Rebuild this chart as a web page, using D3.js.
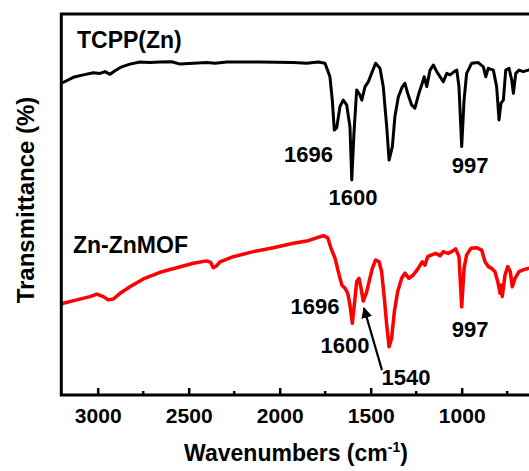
<!DOCTYPE html>
<html>
<head>
<meta charset="utf-8">
<script src="https://cdn.jsdelivr.net/npm/d3@7"></script>
<style>
  body { margin: 0; background: #fff; }
  svg text { font-family: "Liberation Sans", Arial, sans-serif; font-weight: bold; fill: #000; }
</style>
</head>
<body>
<script>
// FTIR spectra: [wavenumber, transmittance (a.u.)]
const tcppZn = [
  [3196, 104], [3134, 105.9], [3079, 106.7], [3024, 107.4], [2987, 107.2], [2960, 107.8],
  [2932, 106.9], [2905, 108.1], [2868, 109.4], [2823, 110.3], [2768, 111], [2713, 110.8],
  [2658, 111], [2593, 111.1], [2548, 110.3], [2475, 110.6], [2401, 110.8], [2355, 110.6],
  [2291, 111], [2108, 111], [1925, 110.8], [1852, 110.6], [1788, 111], [1751, 110.6],
  [1724, 106.1], [1711, 98.3], [1700, 88.3], [1687, 89], [1669, 96.1], [1651, 98.3],
  [1632, 96.7], [1614, 89.4], [1604, 71.7], [1592, 87.3], [1577, 101.7], [1559, 100],
  [1549, 98.3], [1531, 102.8], [1513, 104.4], [1495, 107.2], [1473, 110.6], [1449, 108.9],
  [1431, 102.8], [1412, 89.4], [1399, 78.3], [1381, 82.8], [1367, 92.8], [1348, 99.4],
  [1326, 102.8], [1312, 103.9], [1297, 100.6], [1275, 96.7], [1257, 95.6], [1235, 100.6],
  [1220, 103.3], [1206, 106.1], [1192, 102.8], [1174, 108.3], [1156, 110], [1137, 107.8],
  [1119, 106.1], [1101, 104.4], [1082, 107.2], [1064, 106.7], [1041, 107.8], [1027, 108.3],
  [1015, 102.8], [1000, 82.8], [987, 98.3], [973, 107.2], [945, 110.6], [909, 110.8],
  [881, 109.4], [868, 106.1], [854, 108.9], [826, 108.3], [808, 102.8], [795, 91.7],
  [784, 97.3], [771, 98.3], [758, 108.3], [740, 108.9], [725, 105], [716, 100.6],
  [703, 107.2], [685, 108.3], [662, 107.8], [634, 108.3], [570, 109]
];

const znZnMOF = [
  [3196, 30.3], [3189, 30.6], [3115, 31.7], [3042, 32.8], [3005, 33.6], [2969, 32.8],
  [2942, 31.7], [2914, 32], [2877, 33.9], [2823, 36.1], [2749, 38.7], [2658, 40.9],
  [2566, 42.4], [2475, 43.9], [2401, 44.7], [2379, 44.2], [2365, 42.4], [2346, 43.1],
  [2328, 44.4], [2255, 46.1], [2145, 47.8], [2035, 49.1], [1925, 50.6], [1852, 51.3],
  [1797, 52.4], [1760, 53.1], [1736, 52.4], [1718, 48.9], [1696, 45.6], [1678, 41.1],
  [1659, 36.7], [1641, 35.6], [1626, 33.9], [1614, 30], [1601, 23.9], [1590, 30],
  [1577, 37.8], [1564, 38.9], [1553, 35.6], [1541, 31.3], [1522, 34.4], [1509, 37.8],
  [1491, 42.2], [1473, 45], [1454, 44.4], [1440, 41.1], [1425, 32.2], [1412, 23.3],
  [1399, 16.1], [1385, 18.9], [1370, 27.8], [1352, 34.4], [1330, 38.9], [1312, 40.6],
  [1290, 38.9], [1266, 40], [1239, 42.2], [1217, 44.4], [1202, 43.3], [1187, 46.1],
  [1165, 46.7], [1143, 47.2], [1119, 46.4], [1101, 47.8], [1074, 47.2], [1055, 47.8],
  [1033, 48.7], [1015, 46.1], [1000, 29.4], [987, 42.2], [973, 46.7], [949, 48.9],
  [918, 49.1], [890, 48.3], [872, 44.4], [854, 42.8], [835, 42.2], [817, 41.1],
  [802, 37.8], [789, 33.9], [784, 36.7], [777, 32.8], [762, 40], [747, 42.8],
  [733, 41.1], [722, 36.1], [707, 38.9], [685, 41.1], [662, 41.7], [634, 42.2], [570, 43]
];

const majorTicks = [3000, 2500, 2000, 1500, 1000];
const minorTicks = [2750, 2250, 1750, 1250, 750];

// peak labels: text, wavenumber and value where the label sits
const peakLabels = [
  ["1696", 1842, 77.7], ["1600", 1597, 63.3], ["997", 954, 74],
  ["1696", 1806, 27], ["1600", 1641, 14], ["1540", 1306, 3.3], ["997", 954, 19.3]
];

const w = 529;
const h = 471;

const xScale = d3.scaleLinear().domain([3200, 400]).range([61.3, 570.9]);
const yScale = d3.scaleLinear().domain([0, 127]).range([395, 14]);

const svg = d3.select("body").append("svg").attr("width", w).attr("height", h);

svg.append("defs").append("marker")
  .attr("id", "head")
  .attr("viewBox", "0 0 10 10")
  .attr("refX", 9).attr("refY", 5)
  .attr("markerWidth", 5).attr("markerHeight", 5)
  .attr("markerUnits", "strokeWidth")
  .attr("orient", "auto")
  .append("path").attr("d", "M0,0 L10,5 L0,10 z").attr("fill", "#000");

const line = d3.line()
  .x((d) => xScale(d[0]))
  .y((d) => yScale(d[1]));

svg.append("path").datum(tcppZn)
  .attr("d", line).attr("fill", "none")
  .attr("stroke", "#000").attr("stroke-width", 3).attr("stroke-linejoin", "round");

svg.append("path").datum(znZnMOF)
  .attr("d", line).attr("fill", "none")
  .attr("stroke", "#ff0000").attr("stroke-width", 3.5).attr("stroke-linejoin", "round");

// frame
svg.append("rect")
  .attr("x", xScale(3200)).attr("y", yScale(127))
  .attr("width", xScale(400) - xScale(3200))
  .attr("height", yScale(0) - yScale(127))
  .attr("fill", "none").attr("stroke", "#000").attr("stroke-width", 3);

// bottom axis, ticks pointing inward
const xAxis = d3.axisBottom(xScale).tickValues(majorTicks).tickFormat(d3.format("d"))
  .tickSizeInner(-7).tickSizeOuter(0).tickPadding(13);
const gx = svg.append("g").attr("transform", "translate(0," + yScale(0) + ")").call(xAxis);
gx.select(".domain").remove();
gx.selectAll(".tick line").attr("stroke", "#000").attr("stroke-width", 2.5);
gx.selectAll(".tick text").style("font-size", "21px").style("font-family", null);

svg.append("g").selectAll("line").data(minorTicks).enter().append("line")
  .attr("x1", (d) => xScale(d)).attr("x2", (d) => xScale(d))
  .attr("y1", yScale(0)).attr("y2", yScale(0) - 4)
  .attr("stroke", "#000").attr("stroke-width", 2.5);

// axis titles
const xt = svg.append("text").attr("x", 296).attr("y", 461)
  .attr("text-anchor", "middle").style("font-size", "23px");
xt.append("tspan").text("Wavenumbers (cm");
xt.append("tspan").attr("dy", -9).style("font-size", "14px").text("-1");
xt.append("tspan").attr("dy", 9).text(")");

svg.append("text")
  .attr("transform", "translate(34,200) rotate(-90)")
  .attr("text-anchor", "middle").style("font-size", "24px")
  .text("Transmittance (%)");

// series names
svg.append("text").attr("x", 77).attr("y", 48).style("font-size", "23px").text("TCPP(Zn)");
svg.append("text").attr("x", 73).attr("y", 253).style("font-size", "23px").text("Zn-ZnMOF");

// peak labels
svg.append("g").selectAll("text").data(peakLabels).enter().append("text")
  .attr("x", (d) => xScale(d[1])).attr("y", (d) => yScale(d[2]))
  .attr("text-anchor", "middle").style("font-size", "22px")
  .text((d) => d[0]);

// arrow to the 1540 shoulder
svg.append("line")
  .attr("x1", xScale(1438)).attr("y1", yScale(8.3))
  .attr("x2", xScale(1537)).attr("y2", yScale(29))
  .attr("stroke", "#000").attr("stroke-width", 2.2)
  .attr("marker-end", "url(#head)");
</script>
</body>
</html>
